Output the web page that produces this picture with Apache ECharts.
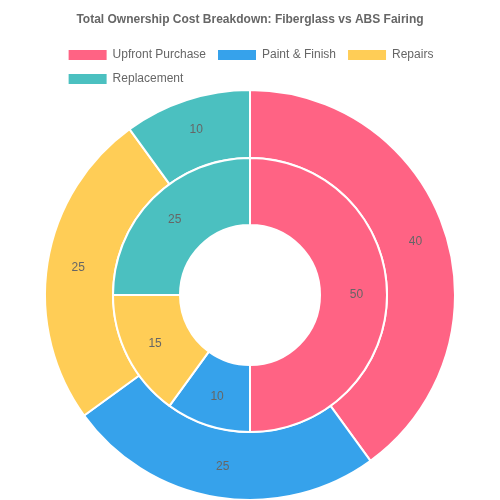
<!DOCTYPE html>
<html><head><meta charset="utf-8">
<script src="https://cdn.jsdelivr.net/npm/echarts@6/dist/echarts.min.js"></script>
<style>html,body{margin:0;padding:0;background:#fff}#c{width:500px;height:500px}</style>
</head><body><div id="c"></div>
<script>
const categories = ['Upfront Purchase','Paint & Finish','Repairs','Replacement'];
const fiberglass = [40,25,25,10];
const abs = [50,10,15,25];
const colors = ['#ff6384','#36a2eb','#ffcd56','#4bc0c0'];
const chart = echarts.init(document.getElementById('c'));
const mk = (vals, r) => ({
  type:'pie', center:[250,295], radius:r, startAngle:90, clockwise:true,
  data: categories.map((n,i)=>({name:n,value:vals[i],itemStyle:{color:colors[i]}})),
  itemStyle:{borderColor:'#fff',borderWidth:2},
  label:{show:true,position:'inside',formatter:'{c}',color:'#666',fontSize:12,fontFamily:'Liberation Sans'},
  labelLine:{show:false}, emphasis:{disabled:true}, animation:false
});
chart.setOption({
  title:{text:'Total Ownership Cost Breakdown: Fiberglass vs ABS Fairing',left:'center',top:9,
    textStyle:{fontSize:12,fontWeight:'bold',color:'#666',fontFamily:'Liberation Sans'}},
  legend:{data:categories,top:43,left:'center',width:370,itemWidth:40,itemHeight:12,itemGap:10,
    icon:'rect',textStyle:{color:'#666',fontSize:12,fontFamily:'Liberation Sans'}},
  series:[mk(fiberglass,[137,205]), mk(abs,[70,137])]
});
</script></body></html>
